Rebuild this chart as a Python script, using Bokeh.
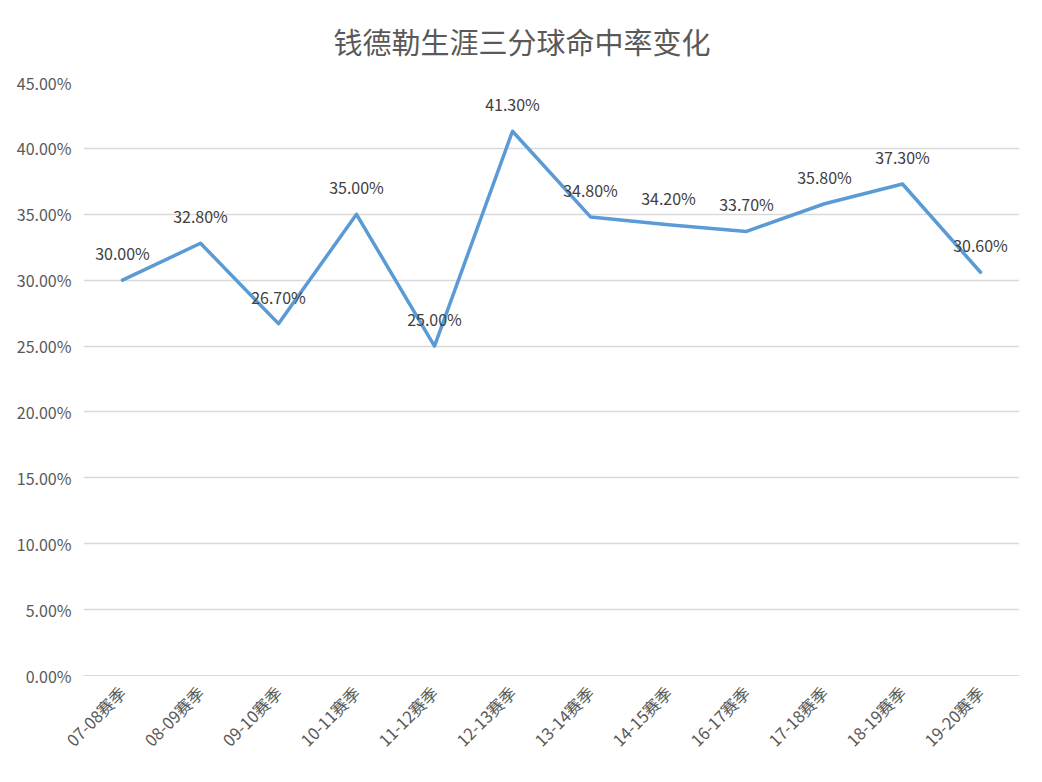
from bokeh.plotting import figure
from bokeh.models import ColumnDataSource, FixedTicker, NumeralTickFormatter
from bokeh.core.properties import value
from bokeh.embed import file_html
from bokeh.resources import INLINE
import math

seasons = ["07-08赛季", "08-09赛季", "09-10赛季", "10-11赛季", "11-12赛季", "12-13赛季",
           "13-14赛季", "14-15赛季", "16-17赛季", "17-18赛季", "18-19赛季", "19-20赛季"]
pct = [0.300, 0.328, 0.267, 0.350, 0.250, 0.413, 0.348, 0.342, 0.337, 0.358, 0.373, 0.306]
labels = ["30.00%", "32.80%", "26.70%", "35.00%", "25.00%", "41.30%",
          "34.80%", "34.20%", "33.70%", "35.80%", "37.30%", "30.60%"]
y_ticks = [0.0, 0.05, 0.10, 0.15, 0.20, 0.25, 0.30, 0.35, 0.40, 0.45]
title_text = "钱德勒生涯三分球命中率变化"

FONT = "Noto Sans CJK SC"
GREY = "#595959"

src = ColumnDataSource(dict(x=seasons, y=pct, t=labels))

p = figure(x_range=seasons, y_range=(0, 0.45), width=1042, height=782,
           output_backend="svg", toolbar_location=None,
           min_border_left=83, min_border_right=23, min_border_top=81, min_border_bottom=107)
p.outline_line_color = None
p.background_fill_color = "white"
p.border_fill_color = "white"

p.line("x", "y", source=src, line_color="#5B9BD5", line_width=3.5,
       line_cap="round", line_join="round")
p.text("x", "y", text="t", source=src, text_font=value(FONT), text_font_size="16px",
       text_color="#404040", text_align="center", text_baseline="middle", y_offset=-27)

p.yaxis.ticker = FixedTicker(ticks=y_ticks)
p.yaxis.formatter = NumeralTickFormatter(format="0.00%")
p.yaxis.axis_line_color = None
p.yaxis.major_tick_line_color = None
p.yaxis.minor_tick_line_color = None
p.yaxis.major_label_text_font = FONT
p.yaxis.major_label_text_font_size = "16px"
p.yaxis.major_label_text_color = GREY
p.yaxis.major_label_standoff = 6

p.xaxis.axis_line_color = "#d9d9d9"
p.xaxis.major_tick_line_color = None
p.xaxis.minor_tick_line_color = None
p.xaxis.major_label_orientation = math.pi / 4
p.xaxis.major_label_text_font = FONT
p.xaxis.major_label_text_font_size = "16.5px"
p.xaxis.major_label_text_color = GREY
p.xaxis.major_label_standoff = 8

p.xgrid.grid_line_color = None
p.ygrid.grid_line_color = "#d9d9d9"
p.ygrid.grid_line_width = 1.3

p.title.text = title_text
p.title.text_font = FONT
p.title.text_font_size = "29px"
p.title.text_font_style = "normal"
p.title.text_color = GREY
p.title.align = "left"
p.title.offset = 250
p.title.standoff = 38
p.title.vertical_align = "top"

open("out.html", "w").write(file_html(p, INLINE))
